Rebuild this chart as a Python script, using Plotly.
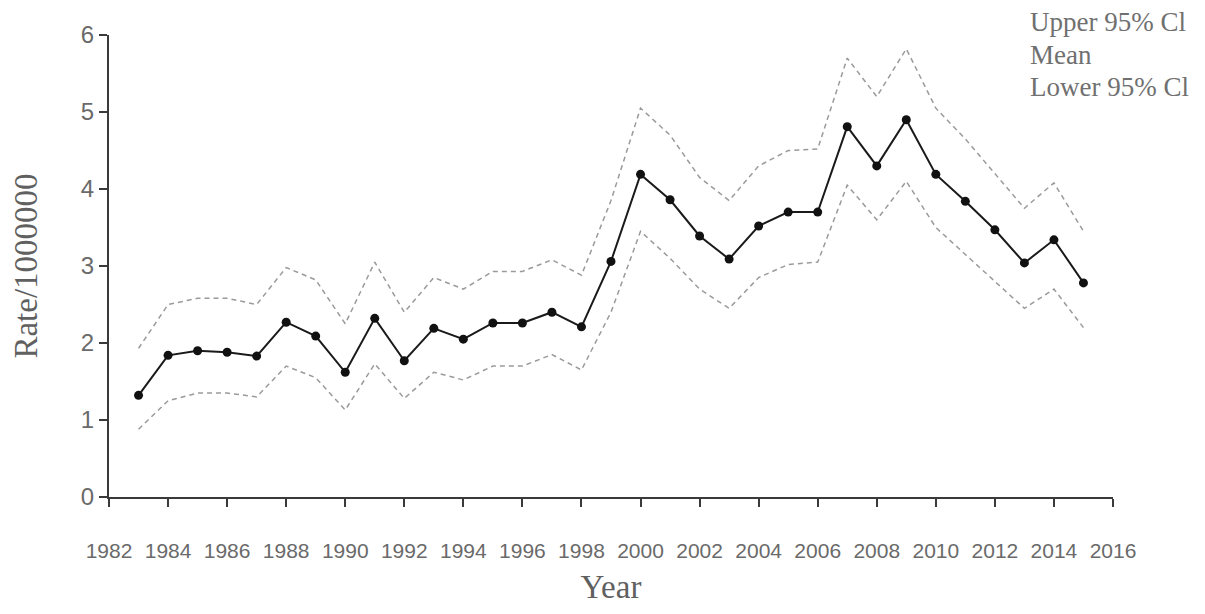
import plotly.graph_objects as go

years = list(range(1983, 2016))
mean = [1.32, 1.84, 1.90, 1.88, 1.83, 2.27, 2.09, 1.62, 2.32, 1.77, 2.19, 2.05, 2.26, 2.26, 2.40, 2.21,
        3.06, 4.19, 3.86, 3.39, 3.09, 3.52, 3.70, 3.70, 4.81, 4.30, 4.90, 4.19, 3.84, 3.47, 3.04, 3.34, 2.78]
upper = [1.93, 2.50, 2.58, 2.58, 2.50, 2.98, 2.82, 2.25, 3.05, 2.40, 2.85, 2.70, 2.93, 2.93, 3.08, 2.88,
         3.85, 5.05, 4.70, 4.15, 3.85, 4.30, 4.50, 4.52, 5.70, 5.20, 5.82, 5.05, 4.65, 4.20, 3.75, 4.08, 3.45]
lower = [0.88, 1.25, 1.35, 1.35, 1.30, 1.70, 1.55, 1.13, 1.73, 1.28, 1.62, 1.52, 1.70, 1.70, 1.85, 1.65,
         2.40, 3.45, 3.10, 2.70, 2.45, 2.85, 3.02, 3.05, 4.05, 3.60, 4.10, 3.50, 3.15, 2.80, 2.45, 2.70, 2.20]
legend_labels = ["Upper 95% Cl", "Mean", "Lower 95% Cl"]
x_ticks = list(range(1982, 2017, 2))
y_ticks = [0, 1, 2, 3, 4, 5, 6]

SERIF = "Liberation Serif, Times New Roman, serif"
SANS = "Liberation Sans, Arial, sans-serif"

fig = go.Figure()
fig.add_trace(go.Scatter(x=years, y=upper, mode="lines", name=legend_labels[0],
                         line=dict(color="#9a9a9a", width=1.5, dash="5px,4px")))
fig.add_trace(go.Scatter(x=years, y=lower, mode="lines", name=legend_labels[2],
                         line=dict(color="#9a9a9a", width=1.5, dash="5px,4px")))
fig.add_trace(go.Scatter(x=years, y=mean, mode="lines+markers", name=legend_labels[1],
                         line=dict(color="#1a1a1a", width=2),
                         marker=dict(color="#111111", size=9)))

# plot area in page pixels: x 100..1113, y 35..497 (page has 8px body offset)
ann_y = [22, 55, 87]
for t, yy in zip(legend_labels, ann_y):
    fig.add_annotation(x=(1027 - 100) / 1013, y=(497 - yy) / 462, xref="paper", yref="paper",
                       xanchor="left", yanchor="middle", text=t, showarrow=False,
                       font=dict(family=SERIF, size=27, color="#707070"))

fig.update_layout(
    width=1205, height=614,
    margin=dict(l=92, r=100, t=27, b=125),
    paper_bgcolor="white", plot_bgcolor="white",
    showlegend=False,
    xaxis=dict(range=[1982, 2016], tickvals=x_ticks, ticktext=[str(v) for v in x_ticks],
               showgrid=False, zeroline=False, showline=True, linecolor="#3a3a3a", linewidth=2,
               ticks="outside", ticklen=8, tickwidth=2, tickcolor="#3a3a3a",
               ticklabelstandoff=26,
               tickfont=dict(family=SANS, size=21, color="#6a6a6a"),
               title=dict(text="Year", standoff=14,
                          font=dict(family=SERIF, size=33, color="#606060"))),
    yaxis=dict(range=[0, 6], tickvals=y_ticks, showgrid=False, zeroline=False,
               showline=True, linecolor="#3a3a3a", linewidth=2,
               ticks="outside", ticklen=8, tickwidth=2, tickcolor="#3a3a3a",
               tickfont=dict(family=SANS, size=24, color="#6a6a6a"),
               title=dict(text="Rate/1000000", standoff=38,
                          font=dict(family=SERIF, size=33, color="#606060"))),
)

fig.write_html("out.html")
